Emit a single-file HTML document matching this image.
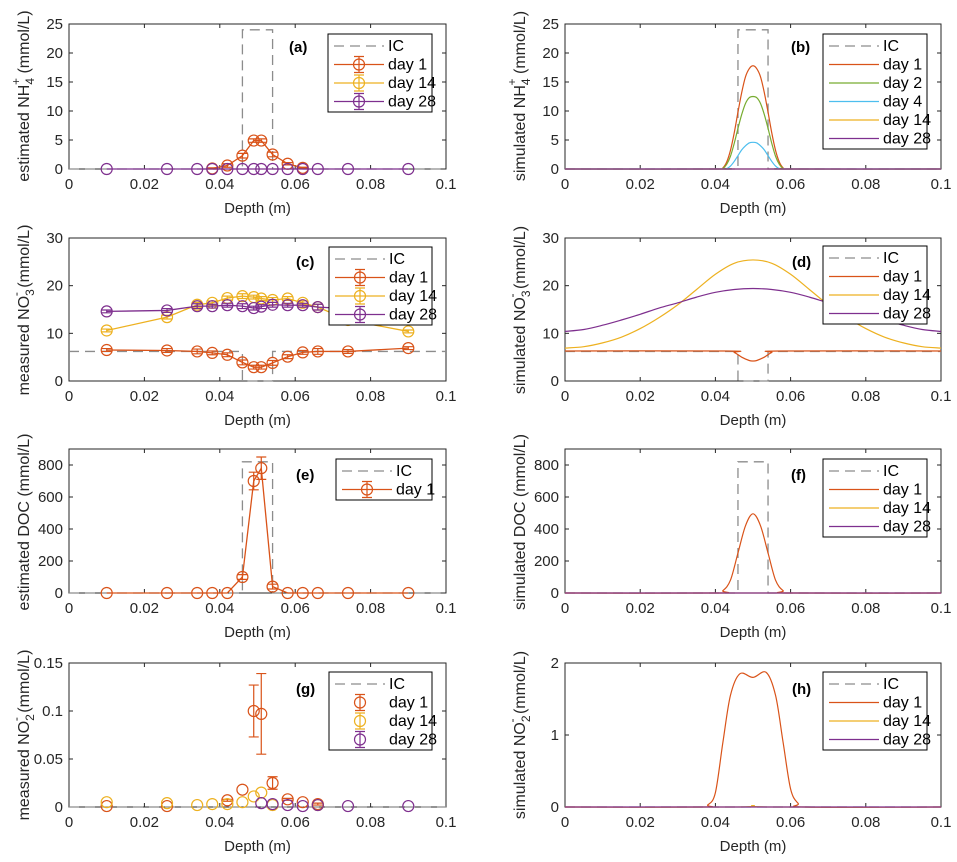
<!DOCTYPE html>
<html><head><meta charset="utf-8"><style>
body{margin:0;background:#fff}
svg{display:block;font-family:"Liberation Sans",sans-serif}
</style></head><body>
<svg id="fig" width="957" height="862" viewBox="0 0 957 862"></svg>
<script>
// ---------- data ----------
const xTicks=[0,0.02,0.04,0.06,0.08,0.1];
const xTickLabels=['0','0.02','0.04','0.06','0.08','0.1'];
const estDepth=[0.01,0.026,0.034,0.038,0.042,0.046,0.049,0.051,0.054,0.058,0.062,0.066,0.074,0.09];
const icX=[0,0.046,0.046,0.054,0.054,0.1];
const icNH4=[0,0,24,24,0,0];
const icNO3=[6.2,6.2,0,0,6.2,6.2];
const icDOC=[0,0,820,820,0,0];
const icNO2=[0,0,0,0,0,0];
// (a)
const aDay1Depth=[0.038,0.042,0.046,0.049,0.051,0.054,0.058,0.062];
const aDay1=[0.1,0.6,2.3,4.9,4.9,2.5,0.9,0.2];
const aDay1Err=[0.1,0.3,0.4,0.3,0.3,0.4,0.2,0.1];
const aDay28=[0,0,0,0,0,0,0,0,0,0,0,0,0,0];
// (b)
const simX=[0,0.041,0.042,0.043,0.044,0.045,0.046,0.047,0.048,0.049,0.05,0.051,0.052,0.053,0.054,0.055,0.056,0.057,0.058,0.059,0.1];
const bDay1=[0,0,0.2,1.2,3.2,6.2,9.8,13.2,15.9,17.3,17.8,17.3,15.9,13.2,9.8,6.2,3.2,1.2,0.2,0,0];
const bDay2=[0,0,0.1,0.8,2.2,4.4,7.0,9.4,11.3,12.3,12.5,12.3,11.3,9.4,7.0,4.4,2.2,0.8,0.1,0,0];
const bDay4=[0,0,0,0.05,0.5,1.3,2.3,3.3,4.0,4.5,4.6,4.5,4.0,3.3,2.3,1.3,0.5,0.05,0,0,0];
const flatX=[0,0.1];
const flatZero=[0,0];
// (c)
const cDay1=[6.5,6.4,6.2,5.9,5.5,3.9,2.9,2.9,3.8,5.1,6.0,6.2,6.2,6.9];
const cDay14=[10.6,13.4,16.0,16.4,17.4,17.8,17.6,17.3,17.0,17.3,16.4,15.5,12.8,10.4];
const cDay28Depth=[0.01,0.026,0.034,0.038,0.042,0.046,0.049,0.051,0.054,0.058,0.062,0.066,0.074];
const cDay28=[14.6,14.8,15.7,15.7,15.9,15.7,15.3,15.6,16.0,15.9,15.9,15.5,15.2];
const cErr=[0.3,0.4,0.5,0.4,0.4,0.5,0.4,0.4,0.5,0.4,0.4,0.6,0.4,0.3];
// (d)
const dX=[0,0.005,0.01,0.015,0.02,0.025,0.03,0.035,0.04,0.045,0.05,0.055,0.06,0.065,0.07,0.075,0.08,0.085,0.09,0.095,0.1];
const dDay14=[6.9,7.2,8.0,9.2,11.0,13.3,16.0,19.2,22.4,24.7,25.4,24.7,22.4,19.2,16.0,13.3,11.0,9.2,8.0,7.2,6.9];
const dDay28=[10.4,10.8,11.7,12.8,14.0,15.3,16.4,17.6,18.6,19.2,19.4,19.2,18.6,17.6,16.4,15.3,14.0,12.8,11.7,10.8,10.4];
const dDay1X=[0,0.043,0.045,0.047,0.049,0.05,0.051,0.053,0.055,0.057,0.1];
const dDay1=[6.3,6.3,6.0,5.0,4.3,4.2,4.3,5.0,6.0,6.3,6.3];
// (e)
const eDay1=[0,0,0,0,0,100,700,780,40,0,0,0,0,0];
const eErr=[0,0,0,0,0,15,55,70,15,0,0,0,0,0];
// (f)
const fX=[0,0.04,0.042,0.044,0.046,0.048,0.05,0.052,0.054,0.056,0.058,0.06,0.1];
const fDay1=[0,0,15,80,250,420,495,420,250,80,15,0,0];
// (g)
const gDay1Depth=[0.01,0.026,0.042,0.046,0.049,0.051,0.054,0.058,0.062,0.066];
const gDay1=[0.001,0.001,0.007,0.018,0.1,0.097,0.025,0.008,0.005,0.003];
const gDay1Err=[0,0,0.001,0,0.027,0.042,0.0065,0.001,0,0.001];
const gDay14Depth=[0.01,0.026,0.034,0.038,0.042,0.046,0.049,0.051,0.054,0.066];
const gDay14=[0.005,0.004,0.002,0.003,0.003,0.005,0.011,0.015,0.002,0.002];
const gDay28Depth=[0.051,0.054,0.058,0.062,0.066,0.074,0.09];
const gDay28=[0.004,0.003,0.002,0.001,0.002,0.001,0.001];
// (h)
const hX=[0,0.036,0.038,0.04,0.042,0.044,0.0465,0.05,0.0535,0.056,0.058,0.06,0.062,0.064,0.1];
const hDay1=[0,0,0.03,0.2,0.9,1.55,1.85,1.8,1.87,1.55,0.9,0.25,0.05,0,0];
const hDay14X=[0,0.045,0.05,0.055,0.1];
const hDay14=[0,0,0.02,0,0];

// ---------- drawing ----------
const C={org:'#D95319',yel:'#EDB120',pur:'#7E2F8E',grn:'#77AC30',blu:'#4DBEEE',ic:'#8c8c8c'};
const NS='http://www.w3.org/2000/svg';
const svg=document.getElementById('fig');
function mk(tag,attrs,parent){const e=document.createElementNS(NS,tag);for(const k in attrs)e.setAttribute(k,attrs[k]);(parent||svg).appendChild(e);return e;}

function makePanel(x0,x1,top,bot,ymax,yTicks,yTickLabels,name){
  const g=mk('g',{});
  
  
  const sx=v=>x0+(v/0.1)*(x1-x0);
  const sy=v=>bot-(v/ymax)*(bot-top);
  const frame=mk('rect',{x:x0,y:top,width:x1-x0,height:bot-top,fill:'#fff',stroke:'#262626','stroke-width':1},g);
  
  
  xTicks.forEach((t,i)=>{
    const X=sx(t);
    mk('line',{x1:X,x2:X,y1:bot,y2:bot-4,stroke:'#262626'},g);
    mk('line',{x1:X,x2:X,y1:top,y2:top+4,stroke:'#262626'},g);
    const tl=mk('text',{x:X,y:bot+20,'text-anchor':'middle','font-size':15,fill:'#262626'},g);
    tl.textContent=xTickLabels[i];
    
    
  });
  yTicks.forEach((t,i)=>{
    const Y=sy(t);
    mk('line',{x1:x0,x2:x0+4,y1:Y,y2:Y,stroke:'#262626'},g);
    mk('line',{x1:x1,x2:x1-4,y1:Y,y2:Y,stroke:'#262626'},g);
    const tl=mk('text',{x:x0-6,y:Y+5,'text-anchor':'end','font-size':15,fill:'#262626'},g);
    tl.textContent=yTickLabels[i];
    
    
  });
  const xl=mk('text',{x:(x0+x1)/2,y:bot+44,'text-anchor':'middle','font-size':15,fill:'#262626'},g);
  xl.textContent='Depth (m)';
  
  
  return {g,sx,sy,x0,x1,top,bot};
}
function straight(p,xs,ys,color,dash,name){
  const d=xs.map((x,i)=>(i?'L':'M')+p.sx(x).toFixed(2)+' '+p.sy(ys[i]).toFixed(2)).join(' ');
  const e=mk('path',{d,fill:'none',stroke:color,'stroke-width':1.3,'stroke-dasharray':dash||'none'},p.g);
  
  
}
function smooth(p,xs,ys,color,name){
  const P=xs.map((x,i)=>[p.sx(x),p.sy(ys[i])]);
  let d='M'+P[0][0]+' '+P[0][1];
  for(let i=0;i<P.length-1;i++){
    const a=P[i-1]||P[i],b=P[i],c=P[i+1],e=P[i+2]||c;
    const c1x=b[0]+(c[0]-a[0])/6,c1y=b[1]+(c[1]-a[1])/6,c2x=c[0]-(e[0]-b[0])/6,c2y=c[1]-(e[1]-b[1])/6;
    d+=` C${c1x.toFixed(2)} ${c1y.toFixed(2)} ${c2x.toFixed(2)} ${c2y.toFixed(2)} ${c[0].toFixed(2)} ${c[1].toFixed(2)}`;
  }
  const el=mk('path',{d,fill:'none',stroke:color,'stroke-width':1.2},p.g);
  
  
}
function markers(p,xs,ys,errs,color,name){
  xs.forEach((x,i)=>{
    const X=p.sx(x),Y=p.sy(ys[i]);
    if(errs&&errs[i]>0){
      const y1=p.sy(ys[i]-errs[i]),y2=p.sy(ys[i]+errs[i]);
      mk('path',{d:`M${X} ${y1} L${X} ${y2} M${X-5} ${y1} L${X+5} ${y1} M${X-5} ${y2} L${X+5} ${y2}`,stroke:color,'stroke-width':1.2,fill:'none'},p.g);
    }
    const c=mk('circle',{cx:X,cy:Y,r:5.5,fill:'none',stroke:color,'stroke-width':1.2},p.g);
    
    
  });
}
function yLabel(x,y,parts){
  const t=mk('text',{transform:`translate(${x},${y}) rotate(-90)`,'text-anchor':'middle','font-size':16,fill:'#262626'});
  t.innerHTML=parts;
  
  
}
function panelTag(x,y,s){
  const t=mk('text',{x,y,'font-size':15,'font-weight':'bold',fill:'#000'});
  t.textContent=s;
  
  
}
function legend(x,y,w,entries){
  const h=entries.length*18.5+4;
  const g=mk('g',{});
  
  
  mk('rect',{x,y,width:w,height:h,fill:'#fff',stroke:'#000','stroke-width':1},g);
  entries.forEach((e,i)=>{
    const Y=y+12+i*18.5;
    if(e.line!==false) mk('line',{x1:x+6,x2:x+56,y1:Y,y2:Y,stroke:e.c,'stroke-width':1.2,'stroke-dasharray':e.dash||'none'},g);
    if(e.mark){
      mk('path',{d:`M${x+31} ${Y-8} L${x+31} ${Y+8} M${x+26} ${Y-8} L${x+36} ${Y-8} M${x+26} ${Y+8} L${x+36} ${Y+8}`,stroke:e.c,'stroke-width':1.2},g);
      mk('circle',{cx:x+31,cy:Y,r:5.5,fill:'none',stroke:e.c,'stroke-width':1.2},g);
    }
    const t=mk('text',{x:x+60,y:Y+5,'font-size':16,fill:'#000'},g);
    t.textContent=e.t;
    
    
  });
}
const L=[69,446],R=[565,941];
const rows=[[24,169],[238,381],[449,593],[663,807]];
const ICD='10,6';

// (a)
let p=makePanel(L[0],L[1],rows[0][0],rows[0][1],25,[0,5,10,15,20,25],['0','5','10','15','20','25'],'panel-a');
straight(p,icX,icNH4,C.ic,ICD,'ic-line');
straight(p,aDay1Depth,aDay1,C.org,null,'day1-line');
markers(p,aDay1Depth,aDay1,aDay1Err,C.org,'day1-marker');
straight(p,estDepth,aDay28,C.pur,null,'day28-line');
markers(p,estDepth,aDay28,null,C.pur,'day28-marker');
yLabel(29,96,'estimated NH<tspan dy="5" font-size="12">4</tspan><tspan dx="-7" dy="-14" font-size="12">+</tspan><tspan dy="9"> (mmol/L)</tspan>');
panelTag(289,52,'(a)');
legend(328,34,104,[{t:'IC',c:C.ic,dash:ICD},{t:'day 1',c:C.org,mark:1},{t:'day 14',c:C.yel,mark:1},{t:'day 28',c:C.pur,mark:1}]);

// (b)
p=makePanel(R[0],R[1],rows[0][0],rows[0][1],25,[0,5,10,15,20,25],['0','5','10','15','20','25'],'panel-b');
straight(p,icX,icNH4,C.ic,ICD,'ic-line');
smooth(p,simX,bDay1,C.org,'day1-line');
smooth(p,simX,bDay2,C.grn,'day2-line');
smooth(p,simX,bDay4,C.blu,'day4-line');
straight(p,flatX,flatZero,C.yel,null,'day14-line');
straight(p,flatX,flatZero,C.pur,null,'day28-line');
yLabel(525,96,'simulated NH<tspan dy="5" font-size="12">4</tspan><tspan dx="-7" dy="-14" font-size="12">+</tspan><tspan dy="9"> (mmol/L)</tspan>');
panelTag(791,52,'(b)');
legend(823,34,104,[{t:'IC',c:C.ic,dash:ICD},{t:'day 1',c:C.org},{t:'day 2',c:C.grn},{t:'day 4',c:C.blu},{t:'day 14',c:C.yel},{t:'day 28',c:C.pur}]);

// (c)
p=makePanel(L[0],L[1],rows[1][0],rows[1][1],30,[0,10,20,30],['0','10','20','30'],'panel-c');
straight(p,icX,icNO3,C.ic,ICD,'ic-line');
straight(p,estDepth,cDay1,C.org,null,'day1-line');
markers(p,estDepth,cDay1,cErr,C.org,'day1-marker');
straight(p,estDepth,cDay14,C.yel,null,'day14-line');
markers(p,estDepth,cDay14,cErr,C.yel,'day14-marker');
straight(p,cDay28Depth,cDay28,C.pur,null,'day28-line');
markers(p,cDay28Depth,cDay28,cErr,C.pur,'day28-marker');
yLabel(29,310,'measured NO<tspan dy="5" font-size="12">3</tspan><tspan dx="-7" dy="-14" font-size="12">-</tspan><tspan dy="9"> (mmol/L)</tspan>');
panelTag(296,267,'(c)');
legend(329,247,103,[{t:'IC',c:C.ic,dash:ICD},{t:'day 1',c:C.org,mark:1},{t:'day 14',c:C.yel,mark:1},{t:'day 28',c:C.pur,mark:1}]);

// (d)
p=makePanel(R[0],R[1],rows[1][0],rows[1][1],30,[0,10,20,30],['0','10','20','30'],'panel-d');
straight(p,icX,icNO3,C.ic,ICD,'ic-line');
smooth(p,dDay1X,dDay1,C.org,'day1-line');
smooth(p,dX,dDay14,C.yel,'day14-line');
smooth(p,dX,dDay28,C.pur,'day28-line');
yLabel(525,310,'simulated NO<tspan dy="5" font-size="12">3</tspan><tspan dx="-7" dy="-14" font-size="12">-</tspan><tspan dy="9"> (mmol/L)</tspan>');
panelTag(792,267,'(d)');
legend(823,246,104,[{t:'IC',c:C.ic,dash:ICD},{t:'day 1',c:C.org},{t:'day 14',c:C.yel},{t:'day 28',c:C.pur}]);

// (e)
p=makePanel(L[0],L[1],rows[2][0],rows[2][1],900,[0,200,400,600,800],['0','200','400','600','800'],'panel-e');
straight(p,icX,icDOC,C.ic,ICD,'ic-line');
straight(p,estDepth,eDay1,C.org,null,'day1-line');
markers(p,estDepth,eDay1,eErr,C.org,'day1-marker');
yLabel(29,522,'estimated DOC (mmol/L)');
panelTag(296,480,'(e)');
legend(336,459,96,[{t:'IC',c:C.ic,dash:ICD},{t:'day 1',c:C.org,mark:1}]);

// (f)
p=makePanel(R[0],R[1],rows[2][0],rows[2][1],900,[0,200,400,600,800],['0','200','400','600','800'],'panel-f');
straight(p,icX,icDOC,C.ic,ICD,'ic-line');
smooth(p,fX,fDay1,C.org,'day1-line');
straight(p,flatX,flatZero,C.yel,null,'day14-line');
straight(p,flatX,flatZero,C.pur,null,'day28-line');
yLabel(525,522,'simulated DOC (mmol/L)');
panelTag(791,480,'(f)');
legend(823,459,104,[{t:'IC',c:C.ic,dash:ICD},{t:'day 1',c:C.org},{t:'day 14',c:C.yel},{t:'day 28',c:C.pur}]);

// (g)
p=makePanel(L[0],L[1],rows[3][0],rows[3][1],0.15,[0,0.05,0.1,0.15],['0','0.05','0.1','0.15'],'panel-g');
straight(p,icX,icNO2,C.ic,ICD,'ic-line');
markers(p,gDay1Depth,gDay1,gDay1Err,C.org,'day1-marker');
markers(p,gDay14Depth,gDay14,null,C.yel,'day14-marker');
markers(p,gDay28Depth,gDay28,null,C.pur,'day28-marker');
yLabel(29,735,'measured NO<tspan dy="5" font-size="12">2</tspan><tspan dx="-7" dy="-14" font-size="12">-</tspan><tspan dy="9"> (mmol/L)</tspan>');
panelTag(296,694,'(g)');
legend(329,672,103,[{t:'IC',c:C.ic,dash:ICD},{t:'day 1',c:C.org,mark:1,line:false},{t:'day 14',c:C.yel,mark:1,line:false},{t:'day 28',c:C.pur,mark:1,line:false}]);

// (h)
p=makePanel(R[0],R[1],rows[3][0],rows[3][1],2,[0,1,2],['0','1','2'],'panel-h');
straight(p,icX,icNO2,C.ic,ICD,'ic-line');
smooth(p,hX,hDay1,C.org,'day1-line');
smooth(p,hDay14X,hDay14,C.yel,'day14-line');
straight(p,flatX,flatZero,C.pur,null,'day28-line');
yLabel(525,735,'simulated NO<tspan dy="5" font-size="12">2</tspan><tspan dx="-7" dy="-14" font-size="12">-</tspan><tspan dy="9"> (mmol/L)</tspan>');
panelTag(792,694,'(h)');
legend(823,672,104,[{t:'IC',c:C.ic,dash:ICD},{t:'day 1',c:C.org},{t:'day 14',c:C.yel},{t:'day 28',c:C.pur}]);
</script>
</body></html>
